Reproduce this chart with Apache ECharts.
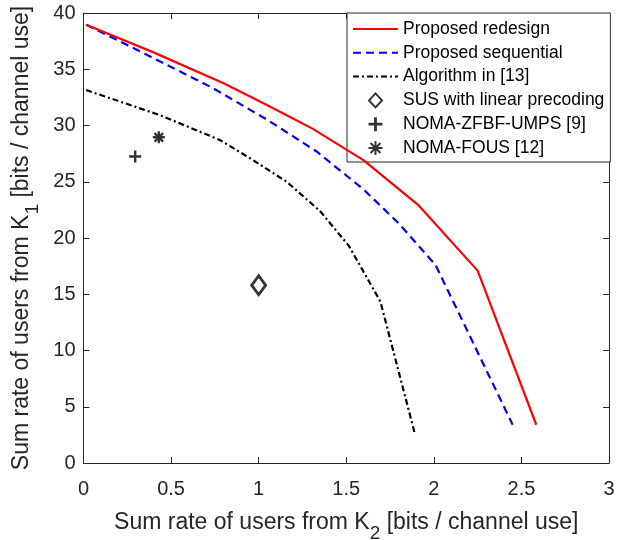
<!DOCTYPE html>
<html>
<head>
<meta charset="utf-8">
<script src="https://cdn.jsdelivr.net/npm/echarts@6/dist/echarts.min.js"></script>
<style>html,body{margin:0;padding:0;background:#fff;}#c{width:631px;height:540px;}</style>
</head>
<body>
<div id="c"></div>
<script>
// Data
const redX = [0.015, 0.40, 0.80, 1.05, 1.31, 1.60, 1.91, 2.25, 2.585];
const redY = [38.95, 36.5, 33.75, 31.8, 29.7, 26.9, 22.95, 17.1, 3.4];
const blueX = [0.015, 0.27, 0.73, 1.05, 1.33, 1.60, 1.80, 2.01, 2.45];
const blueY = [38.95, 37.0, 33.4, 30.5, 27.7, 24.3, 21.3, 17.6, 3.4];
const blackX = [0.015, 0.44, 0.78, 0.97, 1.16, 1.35, 1.515, 1.695, 1.89];
const blackY = [33.15, 30.9, 28.7, 26.9, 25.0, 22.4, 19.3, 14.35, 2.7];
const susPoint = [1.0, 15.8];
const zfbfPoint = [0.295, 27.25];
const fousPoint = [0.43, 28.95];
const seriesNames = ['Proposed redesign', 'Proposed sequential', 'Algorithm in [13]',
  'SUS with linear precoding', 'NOMA-ZFBF-UMPS [9]', 'NOMA-FOUS [12]'];
const xTicks = {min: 0, max: 3, step: 0.5};
const yTicks = {min: 0, max: 40, step: 5};

const zip = (xs, ys) => xs.map((x, i) => [x, ys[i]]);
const FONT = 'Liberation Sans, Arial, Helvetica, sans-serif';
const AX = '#262626';

const diamondPath = 'path://M7,0 L14,9.5 L7,19 L0,9.5 Z';
const diamondLegend = 'path://M6.5,0 L13,7 L6.5,14 L0,7 Z';
const plusPath = 'path://M4.8,0 H7.2 V4.8 H12 V7.2 H7.2 V12 H4.8 V7.2 H0 V4.8 H4.8 Z';
const starPath = 'path://M0,6 L12,6 M6,0 L6,12 M1.76,1.76 L10.24,10.24 M10.24,1.76 L1.76,10.24';
const hideSymbol = {color: 'rgba(0,0,0,0)', borderColor: 'rgba(0,0,0,0)', borderWidth: 0};

function boxAxis(pos, range) {
  return {
    type: 'value', position: pos, min: range.min, max: range.max, interval: range.step,
    axisLine: {show: true, onZero: false, lineStyle: {color: AX, width: 1}},
    axisTick: {show: true, inside: true, length: 6, lineStyle: {color: AX}},
    axisLabel: {show: false}, splitLine: {show: false}
  };
}

const chart = echarts.init(document.getElementById('c'), null, {renderer: 'canvas'});
chart.setOption({
  animation: false,
  backgroundColor: '#fff',
  grid: {left: 83.5, right: 22, top: 13, bottom: 77, containLabel: false, outerBoundsMode: 'none'},
  xAxis: [{
    type: 'value', position: 'bottom', min: xTicks.min, max: xTicks.max, interval: xTicks.step,
    axisLine: {show: true, onZero: false, lineStyle: {color: AX, width: 1}},
    axisTick: {show: true, inside: true, length: 6, lineStyle: {color: AX}},
    axisLabel: {fontSize: 20, color: AX, fontFamily: FONT, margin: 16},
    splitLine: {show: false},
    name: 'Sum rate of users from K{s|2} [bits / channel use]',
    nameLocation: 'middle', nameGap: 39,
    nameTextStyle: {fontSize: 23, color: AX, fontFamily: FONT,
      rich: {s: {fontSize: 19, color: AX, fontFamily: FONT, padding: [22, 0, 0, 0]}}}
  }, boxAxis('top', xTicks)],
  yAxis: [{
    type: 'value', position: 'left', min: yTicks.min, max: yTicks.max, interval: yTicks.step,
    axisLine: {show: true, onZero: false, lineStyle: {color: AX, width: 1}},
    axisTick: {show: true, inside: true, length: 6, lineStyle: {color: AX}},
    axisLabel: {fontSize: 20, color: AX, fontFamily: FONT, margin: 8},
    splitLine: {show: false},
    name: 'Sum rate of users from K{s|1} [bits / channel use]',
    nameLocation: 'middle', nameGap: 38,
    nameTextStyle: {fontSize: 23, color: AX, fontFamily: FONT,
      rich: {s: {fontSize: 19, color: AX, fontFamily: FONT, padding: [22, 0, 0, 0]}}}
  }, boxAxis('right', yTicks)],
  legend: {
    orient: 'vertical', left: 347, top: 13,
    itemWidth: 45, itemHeight: 14, itemGap: 5.8,
    padding: [7, 6, 5, 5],
    borderColor: AX, borderWidth: 1, backgroundColor: '#fff',
    textStyle: {fontSize: 17.5, color: '#000', fontFamily: FONT},
    data: [
      {name: seriesNames[0], itemStyle: hideSymbol},
      {name: seriesNames[1], itemStyle: hideSymbol},
      {name: seriesNames[2], itemStyle: hideSymbol},
      {name: seriesNames[3], icon: diamondLegend},
      {name: seriesNames[4]}, {name: seriesNames[5]}
    ]
  },
  series: [
    {name: seriesNames[0], type: 'line', data: zip(redX, redY), symbol: 'none', showSymbol: false,
      lineStyle: {color: '#ff0000', width: 2.2}, itemStyle: {color: '#ff0000'}, z: 5},
    {name: seriesNames[1], type: 'line', data: zip(blueX, blueY), symbol: 'none', showSymbol: false,
      lineStyle: {color: '#0000ff', width: 2.2, type: [8, 5]}, itemStyle: {color: '#0000ff'}, z: 4},
    {name: seriesNames[2], type: 'line', data: zip(blackX, blackY), symbol: 'none', showSymbol: false,
      lineStyle: {color: '#000', width: 2.2, type: [6, 3, 2, 3]}, itemStyle: {color: '#000'}, z: 3},
    {name: seriesNames[3], type: 'scatter', data: [susPoint], symbol: diamondPath, symbolSize: [14, 19],
      itemStyle: {color: '#fff', borderColor: '#000', borderWidth: 2.8}},
    {name: seriesNames[4], type: 'scatter', data: [zfbfPoint], symbol: plusPath, symbolSize: 12,
      itemStyle: {color: '#000', borderWidth: 0}},
    {name: seriesNames[5], type: 'scatter', data: [fousPoint], symbol: starPath, symbolSize: 12,
      itemStyle: {color: 'transparent', borderColor: '#000', borderWidth: 2.4}}
  ]
});
</script>
</body>
</html>
